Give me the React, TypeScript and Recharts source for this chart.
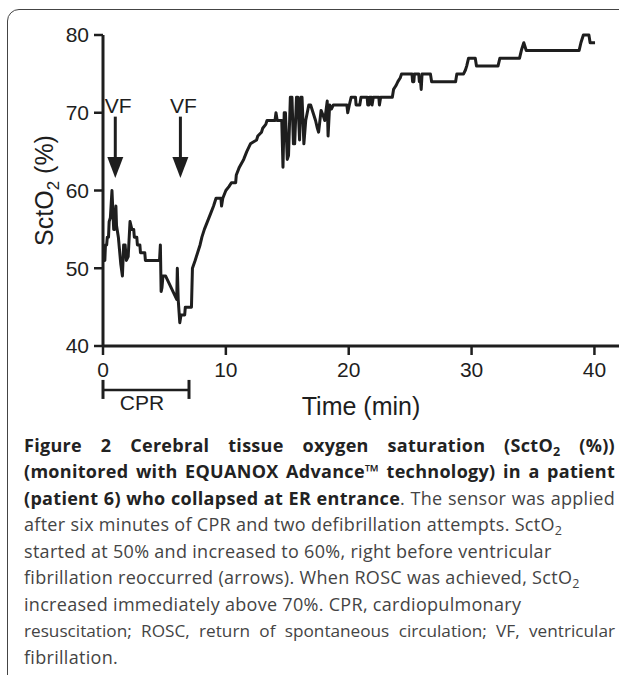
import React from 'react';
import { LineChart, Line, XAxis, YAxis, ReferenceLine } from 'recharts';

// SctO2 trace (minutes, %)
const TIME = [
  0.02, 0.15, 0.2, 0.3, 0.35, 0.45, 0.5, 0.6, 0.73, 0.87, 0.95, 1.05, 1.1, 1.25, 1.45, 1.58, 1.68, 1.8, 1.9, 2.05,
  2.2, 2.35, 2.5, 2.55, 2.75, 2.8, 3.0, 3.05, 3.4, 3.45, 4.6, 4.67, 4.73, 4.8, 4.88, 5.1, 6.0, 6.05, 6.12, 6.25,
  6.35, 6.65, 6.7, 7.2, 7.28, 7.5, 7.7, 7.9, 8.05, 8.25, 8.5, 8.75, 9.0, 9.2, 9.6, 9.65, 9.75, 10.0, 10.25, 10.45,
  10.8, 10.85, 11.1, 11.45, 11.7, 12.0, 12.5, 12.6, 12.9, 13.0, 13.25, 13.35, 14.0, 14.08, 14.18, 14.55, 14.65, 14.75, 14.85, 15.0,
  15.1, 15.25, 15.38, 15.5, 15.6, 15.75, 15.85, 16.0, 16.1, 16.2, 16.35, 16.5, 16.75, 16.9, 17.1, 17.3, 17.45, 17.55, 17.75, 17.95,
  18.05, 18.25, 18.32, 18.45, 18.6, 18.75, 19.85, 19.92, 20.05, 20.2, 20.55, 20.6, 20.9, 21.0, 21.5, 21.55, 21.65, 21.7, 21.85, 21.9,
  22.0, 22.45, 22.5, 22.6, 23.55, 23.65, 23.85, 24.0, 24.2, 24.3, 25.15, 25.2, 25.3, 25.35, 25.7, 25.75, 25.85, 25.9, 25.97, 26.65,
  26.75, 28.7, 28.8, 29.35, 29.5, 29.6, 29.75, 30.3, 30.4, 32.15, 32.3, 33.9, 34.05, 34.25, 34.45, 38.75, 38.9, 39.1, 39.55, 39.65,
  40.05,
];
const SCTO2 = [
  51, 51, 53, 53, 54, 54, 56, 56.5, 60, 55, 55, 58, 55.5, 54, 50.5, 49, 53, 53, 51, 51.5,
  56, 55, 55, 54, 54, 53, 53, 52, 52, 51, 51, 53, 47, 47.5, 49, 49, 46, 50, 46, 43,
  44, 44, 45, 45, 50, 51, 52, 53, 54, 55, 56, 57, 58, 59, 59, 58, 59, 60, 60.5, 61,
  61, 62, 63, 64, 65, 66, 66.5, 67, 67.5, 68, 68.5, 69, 69, 70, 69, 69, 63, 70, 70, 64,
  64.5, 72, 72, 66, 66, 72, 72, 66.5, 72, 72, 66, 69, 71, 71, 70, 69, 68, 67.5, 70.3, 69.5,
  69, 71.5, 67, 71, 70.5, 71, 71, 70, 71, 72, 72, 71, 71, 72, 72, 71, 71, 72, 72, 71,
  72, 72, 71, 72, 72, 73, 73.5, 74, 74.5, 75, 75, 74, 74, 75, 75, 74, 74, 73, 75, 75,
  74, 74, 75, 75, 75.5, 76, 77, 77, 76, 76, 77, 77, 78, 79, 78, 78, 79, 80, 80, 79,
  79,
];
const X_TICKS = [0, 10, 20, 30, 40];
const Y_TICKS = [40, 50, 60, 70, 80];
const VF_TIMES = [1.0, 6.3];
const ARROW_TOP = 69.5;
const ARROW_TIP = 61.6;
const CPR_SPAN = [0, 7];
const CPR_LEVEL = 34.35;

const data = TIME.map((t, i) => ({ t, v: SCTO2[i] }));

const INK = '#1e1e1e';
const FONT = '"Liberation Sans", Arial, sans-serif';
const CAPTION_FONT = '"Open Sans", "Noto Sans", sans-serif';

const VFArrow = (props: any) => {
  const { x1, y1, x2, y2 } = props;
  const head = 21;
  return (
    <g>
      <line x1={x1} y1={y1} x2={x2} y2={y2 - head + 2} stroke={INK} strokeWidth={3} />
      <polygon points={`${x2 - 8},${y2 - head} ${x2 + 8},${y2 - head} ${x2},${y2}`} fill={INK} />
      <text x={x1 + 3} y={y1 - 4} textAnchor="middle" fontSize={21} fontFamily={FONT} fill={INK}>VF</text>
    </g>
  );
};

const CprBracket = (props: any) => {
  const { x1, y1, x2 } = props;
  return (
    <g>
      <line x1={x1} y1={y1} x2={x2} y2={y1} stroke={INK} strokeWidth={2.5} />
      <line x1={x1} y1={y1 - 10} x2={x1} y2={y1 + 9} stroke={INK} strokeWidth={3} />
      <line x1={x2} y1={y1 - 10} x2={x2} y2={y1 + 9} stroke={INK} strokeWidth={3} />
      <text x={(x1 + x2) / 2 - 4} y={y1 + 20} textAnchor="middle" fontSize={21} fontFamily={FONT} fill={INK}>CPR</text>
    </g>
  );
};

const YTitle = (props: any) => {
  const vb = props.viewBox || { x: 0, y: 35, width: 103, height: 311 };
  const cx = vb.x + 53;
  const cy = vb.y + vb.height / 2;
  return (
    <text x={cx} y={cy} transform={`rotate(-90, ${cx}, ${cy})`} textAnchor="middle" fontSize={25} fontFamily={FONT} fill={INK}>
      SctO<tspan fontSize={17} dy={6}>2</tspan><tspan dy={-6}> (%)</tspan>
    </text>
  );
};

const XTitle = (props: any) => {
  const vb = props.viewBox || { x: 103, y: 346, width: 516, height: 60 };
  return (
    <text x={vb.x + vb.width / 2} y={vb.y + 69} textAnchor="middle" fontSize={25} fontFamily={FONT} fill={INK}>
      Time (min)
    </text>
  );
};

const line = (justify: boolean): React.CSSProperties => ({
  whiteSpace: 'nowrap',
  height: 26.6,
  lineHeight: '26.6px',
  textAlign: justify ? 'justify' : 'left',
  textAlignLast: justify ? 'justify' : 'auto',
} as React.CSSProperties);

const sub: React.CSSProperties = { fontSize: 12.5, verticalAlign: -4, lineHeight: 0 };
const bold: React.CSSProperties = { fontWeight: 700, color: '#222' };

export default function App() {
  return (
    <div style={{ position: 'absolute', left: 0, top: 0, width: 619, height: 675, overflow: 'hidden', background: '#fff' }}>
      <div style={{ position: 'absolute', left: 7, top: 9, width: 700, height: 700, border: '1.5px solid #444', borderRadius: 12, boxSizing: 'border-box' }} />
      <div style={{ position: 'absolute', left: 0, top: 0 }}>
        <LineChart width={619} height={430} data={data} margin={{ top: 35, right: 0, bottom: 24, left: 0 }}>
          <XAxis
            dataKey="t"
            type="number"
            domain={[0, 42]}
            ticks={X_TICKS}
            height={60}
            tickSize={9}
            tickMargin={7}
            axisLine={{ stroke: INK, strokeWidth: 3 }}
            tickLine={{ stroke: INK, strokeWidth: 2.5 }}
            tick={{ fontSize: 21, fontFamily: FONT, fill: INK }}
            label={XTitle}
          />
          <YAxis
            type="number"
            domain={[40, 80]}
            ticks={Y_TICKS}
            width={103}
            tickSize={9}
            tickMargin={5}
            axisLine={{ stroke: INK, strokeWidth: 3 }}
            tickLine={{ stroke: INK, strokeWidth: 2.5 }}
            tick={{ fontSize: 21, fontFamily: FONT, fill: INK }}
            label={YTitle}
          />
          <Line
            type="linear"
            dataKey="v"
            stroke={INK}
            strokeWidth={3}
            strokeLinejoin="round"
            dot={false}
            activeDot={false}
            isAnimationActive={false}
          />
          {VF_TIMES.map((t) => (
            <ReferenceLine
              key={t}
              segment={[{ x: t, y: ARROW_TOP }, { x: t, y: ARROW_TIP }]}
              shape={VFArrow}
              ifOverflow="visible"
            />
          ))}
          <ReferenceLine
            segment={[{ x: CPR_SPAN[0], y: CPR_LEVEL }, { x: CPR_SPAN[1], y: CPR_LEVEL }]}
            shape={CprBracket}
            ifOverflow="visible"
          />
        </LineChart>
      </div>
      <div style={{ position: 'absolute', left: 24, top: 431.5, width: 591, fontFamily: CAPTION_FONT, fontSize: 18, letterSpacing: 0.3, color: '#444' }}>
        <div style={{ ...line(true), ...bold }}>
          Figure 2 Cerebral tissue oxygen saturation (SctO<span style={sub}>2</span> (%))
        </div>
        <div style={{ ...line(true), ...bold }}>
          (monitored with EQUANOX Advance™ technology) in a patient
        </div>
        <div style={line(true)}>
          <span style={bold}>(patient 6) who collapsed at ER entrance</span>. The sensor was applied
        </div>
        <div style={line(false)}>
          after six minutes of CPR and two defibrillation attempts. SctO<span style={sub}>2</span>
        </div>
        <div style={line(false)}>started at 50% and increased to 60%, right before ventricular</div>
        <div style={line(false)}>
          fibrillation reoccurred (arrows). When ROSC was achieved, SctO<span style={sub}>2</span>
        </div>
        <div style={line(false)}>increased immediately above 70%. CPR, cardiopulmonary</div>
        <div style={{ ...line(true), fontSize: 17.2, letterSpacing: 0 }}>
          resuscitation; ROSC, return of spontaneous circulation; VF, ventricular
        </div>
        <div style={line(false)}>fibrillation.</div>
      </div>
    </div>
  );
}
